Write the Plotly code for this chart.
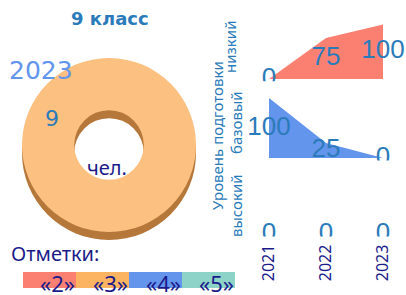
import plotly.graph_objects as go

W, H = 406, 295

# ---- data ----
title_text = "9 класс"
year_label = "2023"
donut_labels = ["«3»"]
donut_values = [9]
unit_text = "чел."
years = ["2021", "2022", "2023"]
low_values = [0, 75, 100]
base_values = [100, 25, 0]
high_values = [0, 0, 0]
level_names = ["низкий", "базовый", "высокий"]
axis_title = "Уровень подготовки"
legend_title = "Отметки:"
grade_labels = ["«2»", "«3»", "«4»", "«5»"]
grade_colors = ["#FB8072", "#FDB462", "#6495ED", "#8DD3C7"]

STEEL = "#2B7BBA"
NAVY = "#1B1B8A"
FONT = "Noto Sans"
NUMFONT = "Liberation Sans"


def px(x):
    return x / W


def py(y):
    return 1 - y / H


fig = go.Figure()

# ---- donut (3D look: darker copy shifted down, then top face) ----
cx, cy, d, off = 109, 145, 174, 8
for dy, col in [(off, "#B5773A"), (0, "#FCC080")]:
    fig.add_trace(go.Pie(
        labels=donut_labels, values=donut_values, hole=0.40, sort=False,
        marker=dict(colors=[col], line=dict(width=0)),
        textinfo="none", hoverinfo="skip", showlegend=False,
        domain=dict(x=[px(cx - d / 2), px(cx + d / 2)],
                    y=[py(cy + dy + d / 2), py(cy + dy - d / 2)]),
    ))

# ---- small area charts ----
x_idx = list(range(len(years)))
series = [(low_values, "#FB8072"), (base_values, "#6495ED"), (high_values, "#8DD3C7")]
panels = [(79, 19), (158, 92), (234, 168)]
xr = [(240 - 269) / 57, (406 - 269) / 57]
for i, ((vals, col), (yb, yt)) in enumerate(zip(series, panels)):
    n = "" if i == 0 else str(i + 1)
    fig.add_trace(go.Scatter(
        x=x_idx, y=vals, mode="lines", fill="tozeroy", fillcolor=col,
        line=dict(width=0, color=col), hoverinfo="skip", showlegend=False,
        xaxis="x" + n, yaxis="y" + n,
    ))
    fig.add_trace(go.Scatter(
        x=x_idx, y=[v / 2 for v in vals], mode="text",
        text=[str(v) for v in vals], textposition="middle center",
        textfont=dict(family=NUMFONT, size=26, color=STEEL),
        cliponaxis=True, hoverinfo="skip", showlegend=False,
        xaxis="x" + n, yaxis="y" + n,
    ))
    yrng = [-4, 110]
    scale = (yb - yt) / 110.0
    bottom_px = yb + 4 * scale
    fig.layout["xaxis" + n] = dict(
        domain=[px(240), 1], range=xr, showgrid=False, zeroline=False,
        showline=False, showticklabels=(i == 2), ticks="",
        tickvals=x_idx, ticktext=years, tickangle=-90,
        tickfont=dict(family=FONT, size=16, color=NAVY),
        ticklabelstandoff=4,
        anchor="y" + n, fixedrange=True,
    )
    fig.layout["yaxis" + n] = dict(
        domain=[py(bottom_px), py(yt)], range=yrng, showgrid=False,
        zeroline=False, showline=False, showticklabels=False,
        anchor="x" + n, fixedrange=True,
    )

ann = []
ann.append(dict(x=px(110), y=py(18), text="<b>" + title_text + "</b>",
                font=dict(family="DejaVu Sans", size=18, color=STEEL)))
ann.append(dict(x=px(41), y=py(70), text=year_label,
                font=dict(family="DejaVu Sans", size=25, color="#6495ED")))
ann.append(dict(x=px(52), y=py(118), text=str(sum(donut_values)),
                font=dict(family="DejaVu Sans", size=22, color=STEEL)))
ann.append(dict(x=px(107), y=py(167), text=unit_text,
                font=dict(family=FONT, size=20, color=NAVY)))
ann.append(dict(x=px(217), y=py(135), text=axis_title, textangle=-90,
                font=dict(family=FONT, size=15, color=STEEL)))
for name, yc, xc in zip(level_names, [47, 122, 205], [230, 236, 236]):
    ann.append(dict(x=px(xc), y=py(yc), text=name, textangle=-90,
                    font=dict(family=FONT, size=15, color=STEEL)))
ann.append(dict(x=px(9), y=py(253), text=legend_title, xanchor="left",
                font=dict(family=FONT, size=20, color=NAVY)))

shapes = []
bx0, bw = 23, 53
for k, (lab, col) in enumerate(zip(grade_labels, grade_colors)):
    x0 = bx0 + k * bw
    shapes.append(dict(type="rect", xref="paper", yref="paper",
                       x0=px(x0), x1=px(x0 + bw), y0=py(288), y1=py(272),
                       fillcolor=col, line=dict(width=0), layer="below"))
    ann.append(dict(x=px(x0 + bw / 2 + 8), y=py(283), text=lab,
                    font=dict(family=FONT, size=22, color=NAVY)))

for a in ann:
    a.setdefault("xref", "paper")
    a.setdefault("yref", "paper")
    a.setdefault("showarrow", False)
    a.setdefault("xanchor", "center")
    a.setdefault("yanchor", "middle")

fig.update_layout(
    width=W, height=H, margin=dict(l=0, r=0, t=0, b=0),
    paper_bgcolor="white", plot_bgcolor="rgba(0,0,0,0)",
    annotations=ann, shapes=shapes, showlegend=False,
)

fig.write_html("out.html", config={"displayModeBar": False})
with open("out.html", encoding="utf-8") as f:
    html = f.read()
html = html.replace("<head>", "<head><style>html,body{margin:0;padding:0;overflow:hidden;}</style>", 1)
with open("out.html", "w", encoding="utf-8") as f:
    f.write(html)
